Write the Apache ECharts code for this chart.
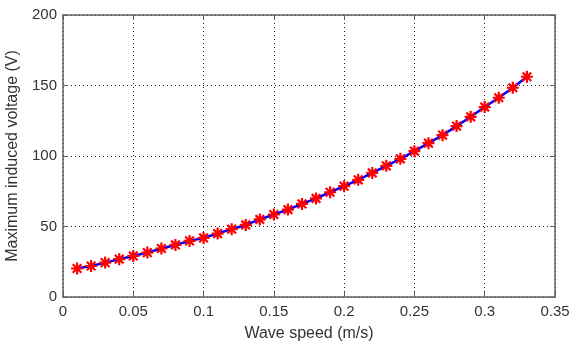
<!DOCTYPE html>
<html>
<head>
<meta charset="utf-8">
<script src="https://cdn.jsdelivr.net/npm/echarts@6/dist/echarts.min.js"></script>
<style>
  html, body { margin: 0; padding: 0; background: #fff; }
  #chart { width: 571px; height: 342px; }
</style>
</head>
<body>
<div id="chart"></div>
<script>
// Wave speed (m/s)
const waveSpeed = [0.01, 0.02, 0.03, 0.04, 0.05, 0.06, 0.07, 0.08, 0.09, 0.10,
                   0.11, 0.12, 0.13, 0.14, 0.15, 0.16, 0.17, 0.18, 0.19, 0.20,
                   0.21, 0.22, 0.23, 0.24, 0.25, 0.26, 0.27, 0.28, 0.29, 0.30,
                   0.31, 0.32, 0.33];
// Maximum induced voltage (V)
const inducedVoltage = [20.2, 22.0, 24.4, 26.8, 29.1, 31.5, 34.4, 36.9, 39.8, 41.9,
                        45.0, 48.1, 51.1, 55.0, 58.5, 62.0, 66.0, 69.9, 74.3, 78.6,
                        83.1, 88.0, 93.0, 98.0, 103.4, 109.1, 114.8, 121.2, 127.8, 134.7,
                        141.3, 148.4, 156.2];
const xTicks = [0, 0.05, 0.1, 0.15, 0.2, 0.25, 0.3, 0.35];
const yTicks = [0, 50, 100, 150, 200];

const FONT = '"Liberation Sans", Arial, Helvetica, sans-serif';
const TEXT_COLOR = '#333333';
const AXIS_COLOR = '#606060';
const asterisk = 'path://M0,-5L0,5M-5,0L5,0M-3.6,-3.6L3.6,3.6M-3.6,3.6L3.6,-3.6';

const points = waveSpeed.map((s, i) => [s, inducedVoltage[i]]);

const baseX = {
  type: 'value', min: xTicks[0], max: xTicks[xTicks.length - 1], interval: 0.05,
  axisLine: { onZero: false, lineStyle: { color: AXIS_COLOR, width: 1.5 } },
  axisTick: { inside: true, length: 5, lineStyle: { color: AXIS_COLOR } }
};
const baseY = {
  type: 'value', min: yTicks[0], max: yTicks[yTicks.length - 1], interval: 50,
  axisLine: { show: true, onZero: false, lineStyle: { color: AXIS_COLOR, width: 1.5 } },
  axisTick: { show: true, inside: true, length: 5, lineStyle: { color: AXIS_COLOR } }
};
const dotted = { show: true, lineStyle: { color: '#222', type: [1, 3], width: 1 } };

const chart = echarts.init(document.getElementById('chart'), null, { renderer: 'canvas' });
chart.setOption({
  animation: false,
  backgroundColor: '#fff',
  grid: { left: 63, right: 16, top: 15, bottom: 45, containLabel: false, outerBoundsMode: 'none' },
  xAxis: [
    Object.assign({}, baseX, {
      position: 'bottom',
      name: 'Wave speed (m/s)', nameLocation: 'middle', nameGap: 29,
      nameTextStyle: { fontFamily: FONT, fontSize: 16, color: TEXT_COLOR },
      axisLabel: { margin: 7, fontFamily: FONT, fontSize: 15, color: TEXT_COLOR,
                   formatter: v => String(+v.toFixed(2)) },
      splitLine: dotted
    }),
    Object.assign({}, baseX, {
      position: 'top', axisLabel: { show: false }, splitLine: { show: false }
    })
  ],
  yAxis: [
    Object.assign({}, baseY, {
      position: 'left',
      name: 'Maximum induced voltage (V)', nameLocation: 'middle', nameGap: 35,
      nameTextStyle: { fontFamily: FONT, fontSize: 16, color: TEXT_COLOR },
      axisLabel: { margin: 6, fontFamily: FONT, fontSize: 15, color: TEXT_COLOR },
      splitLine: dotted
    }),
    Object.assign({}, baseY, {
      position: 'right', axisLabel: { show: false }, splitLine: { show: false }
    })
  ],
  series: [{
    type: 'line',
    data: points,
    xAxisIndex: 0, yAxisIndex: 0,
    showAllSymbol: true,
    symbol: asterisk,
    symbolSize: 12,
    lineStyle: { color: '#0000ff', width: 2.5 },
    itemStyle: { color: 'none', borderColor: '#ff0000', borderWidth: 2.2 },
    z: 3
  }]
});
</script>
</body>
</html>
